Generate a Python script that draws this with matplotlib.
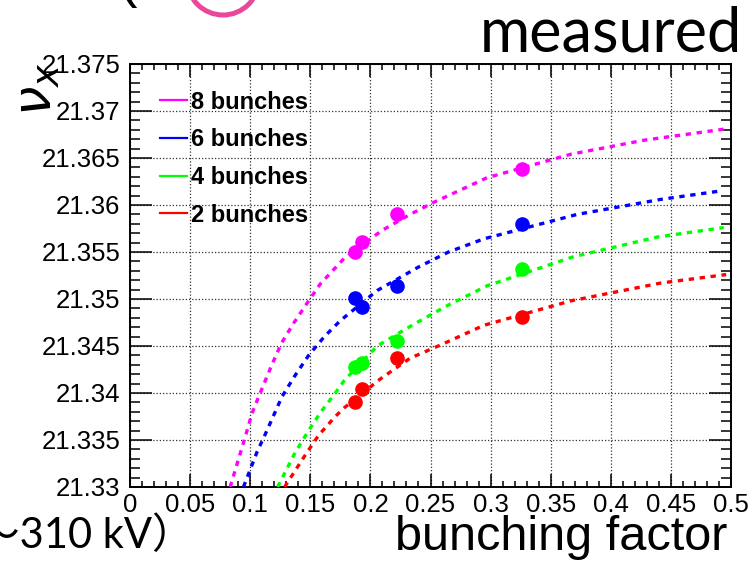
import matplotlib
matplotlib.use("Agg")
import matplotlib.pyplot as plt
from matplotlib.lines import Line2D
from matplotlib.patches import Circle
from matplotlib.ticker import MultipleLocator, FuncFormatter

plt.rcParams['font.family'] = ['Liberation Sans', 'DejaVu Sans']

# measured points (bunching factor, tune)
bf = [0.187, 0.193, 0.222, 0.326]
nu_8 = [21.3550, 21.3561, 21.3590, 21.3638]
nu_6 = [21.3501, 21.3491, 21.3514, 21.3580]
nu_4 = [21.3428, 21.3432, 21.3455, 21.3532]
nu_2 = [21.3390, 21.3404, 21.3437, 21.3481]

# fitted curves
fit8_x = [0.0833, 0.0958, 0.1014, 0.107, 0.118, 0.126, 0.136, 0.1486, 0.1583,
          0.178, 0.2097, 0.233, 0.253, 0.297, 0.3667, 0.428, 0.496]
fit8_y = [21.3300, 21.3353, 21.3378, 21.3396, 21.3430, 21.3453, 21.3474, 21.3498,
          21.3516, 21.3543, 21.3573, 21.3590, 21.3603, 21.3629, 21.3654, 21.3669, 21.3681]
fit6_x = [0.0944, 0.1056, 0.1139, 0.1264, 0.1375, 0.1486, 0.1617, 0.175, 0.2056,
          0.240, 0.265, 0.2944, 0.372, 0.4417, 0.4917]
fit6_y = [21.3300, 21.3337, 21.3360, 21.3396, 21.3419, 21.3440, 21.3460, 21.3477,
          21.3509, 21.3534, 21.3550, 21.3564, 21.3590, 21.3606, 21.3615]
fit4_x = [0.1228, 0.1375, 0.1486, 0.1583, 0.1708, 0.178, 0.2056, 0.236, 0.2625,
          0.297, 0.369, 0.439, 0.494]
fit4_y = [21.3300, 21.3337, 21.3360, 21.3379, 21.3400, 21.3413, 21.3450, 21.3473,
          21.3492, 21.3514, 21.3545, 21.3566, 21.3576]
fit2_x = [0.1286, 0.1458, 0.1569, 0.1708, 0.178, 0.2083, 0.233, 0.26, 0.2944,
          0.3667, 0.4417, 0.496]
fit2_y = [21.3300, 21.3334, 21.3355, 21.3375, 21.3384, 21.3415, 21.3437, 21.3452,
          21.3472, 21.3498, 21.3517, 21.3526]

labels = ['8 bunches', '6 bunches', '4 bunches', '2 bunches']
colors = ['#ff00ff', '#0000ff', '#00ff00', '#ff0000']

W, H = 748, 568
fig = plt.figure(figsize=(W / 100, H / 100), dpi=100)
ax = fig.add_axes([130 / W, 1 - 487 / H, 601 / W, 423 / H])

series = [(fit8_x, fit8_y, nu_8), (fit6_x, fit6_y, nu_6),
          (fit4_x, fit4_y, nu_4), (fit2_x, fit2_y, nu_2)]
for (fx, fy, pts), c in zip(series, colors):
    ax.plot(fx, fy, color=c, lw=2.4, dashes=(1.6, 1.7), zorder=3)
    ax.plot(bf, pts, 'o', color=c, ms=9.5, mec=c, zorder=4)

ax.set_xlim(0, 0.5)
ax.set_ylim(21.33, 21.375)
ax.xaxis.set_major_locator(MultipleLocator(0.05))
ax.xaxis.set_minor_locator(MultipleLocator(0.01))
ax.yaxis.set_major_locator(MultipleLocator(0.005))
ax.yaxis.set_minor_locator(MultipleLocator(0.001))
fmt = FuncFormatter(lambda v, p: '%g' % round(v, 4))
ax.xaxis.set_major_formatter(fmt)
ax.yaxis.set_major_formatter(fmt)

ax.tick_params(which='both', direction='in', top=True, right=True, width=1.1,
               labelsize=18.5, colors='black')
ax.tick_params(axis='x', which='major', length=9.5, pad=4)
ax.tick_params(axis='x', which='minor', length=4.3)
ax.tick_params(axis='y', which='major', length=15.5, pad=7)
ax.tick_params(axis='y', which='minor', length=7.2)
for s in ax.spines.values():
    s.set_linewidth(1.4)
ax.grid(True, which='major', color='#333333', lw=0.9, linestyle=(0, (1, 1.6)))
ax.set_axisbelow(True)

handles = [Line2D([], [], color=c, lw=1.6) for c in colors]
ax.legend(handles, labels, loc='upper left', bbox_to_anchor=(0.05, 0.937),
          frameon=False, borderpad=0, borderaxespad=0, handlelength=1.15,
          handletextpad=0.17, labelspacing=0.62,
          prop={'family': 'Liberation Sans', 'weight': 'bold', 'size': 17})

# axis titles, ROOT style
fig.text(727 / W, 1 - 550 / H, 'bunching factor', ha='right', va='baseline',
         fontsize=35)
fig.text(12 / W, 1 - 62 / H, r'$\nu_x$', rotation=90, ha='left', va='top',
         fontsize=38)

# slide fragments around the plot
fig.text(742 / W, 1 - 52 / H, 'measured', ha='right', va='baseline',
         fontsize=44, family=['Lato', 'DejaVu Sans'])
fig.text(-22 / W, 1 - 548 / H, '～310 kV）', ha='left', va='baseline',
         fontsize=30, family=['Lato', 'Noto Sans CJK JP'])
fig.text(118 / W, 1 + 4 / H, '(', ha='left', va='baseline', fontsize=40)
fig.patches.append(Circle((223, H + 21), 36, transform=None, fill=False,
                          ec='#e8489a', lw=3.6))

fig.savefig('out.png', dpi=100)
